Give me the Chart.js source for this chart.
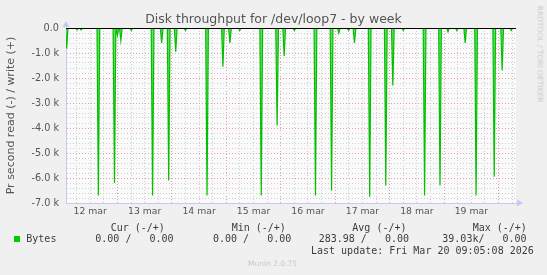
<!DOCTYPE html>
<html>
<head>
<meta charset="utf-8">
<script src="https://cdn.jsdelivr.net/npm/chart.js@4/dist/chart.umd.min.js"></script>
<style>
  body { margin: 0; background: #f0f0f0; }
  #wrap { position: relative; width: 547px; height: 275px; background: #f0f0f0; overflow: hidden; }
  #myChart { position: absolute; left: 0; top: 0; }
  .t { position: absolute; white-space: pre; color: #555; }
  .mono { font-family: "DejaVu Sans Mono", monospace; font-size: 10px; line-height: 12px; color: #3c3c3c; }
  #title { left: 0; width: 547px; top: 11px; text-align: center; font-family: "DejaVu Sans", sans-serif; font-size: 12.5px; line-height: 16px; }
  #credit { font-family: "DejaVu Sans", sans-serif; font-size: 7.5px; color: #c8c8c8; left: 540px; top: 54px; transform: translate(-50%, -50%) rotate(90deg); line-height: 9px; }
  #munin { font-family: "DejaVu Sans", sans-serif; font-size: 7.5px; color: #c8c8c8; left: 248px; top: 259px; line-height: 10px; }
  #swatch { position: absolute; left: 14px; top: 236px; width: 6px; height: 6px; background: #00cc00; }
</style>
</head>
<body>
<div id="wrap">
  <canvas id="myChart" width="547" height="275"></canvas>
  <div class="t" id="title">Disk throughput for /dev/loop7 - by week</div>
  <div class="t" id="credit">RRDTOOL / TOBI OETIKER</div>
  <div class="t" id="munin">Munin 2.0.75</div>
  <div id="swatch"></div>
</div>
<script>
// hours since 12 mar 00:00, read bytes per second (drawn negative)
const readHours = [1.6, 6.2, 8.0, 15.6, 22.7, 24.0, 25.5, 30.1, 39.5, 43.5,
                   46.6, 49.7, 54.0, 63.5, 70.5, 73.6, 77.9, 87.4, 94.4, 97.5,
                   102.0, 111.3, 118.4, 121.6, 125.9, 128.5, 135.2, 142.3, 145.4, 150.0,
                   159.4, 166.2, 169.7, 173.6, 177.3, 182.1, 190.1, 193.6, 197.6];
const readValues = [-820, -80, -80, -6700, -6200, -300, -500, -100, -6700, -600,
                    -6100, -950, -100, -6700, -1550, -600, -100, -6700, -3900, -1120,
                    -100, -6700, -6500, -200, -100, -600, -6750, -6300, -2300, -100,
                    -6700, -6300, -150, -100, -600, -6700, -5950, -1700, -100];
const dayLabels = ['12 mar', '13 mar', '14 mar', '15 mar', '16 mar', '17 mar', '18 mar', '19 mar'];
const startHour = 1.33;
const endHour = 199.7;

const legendHeads = ['Cur (-/+)', 'Min (-/+)', 'Avg (-/+)', 'Max (-/+)'];
const legendValues = ['0.00 /   0.00', '0.00 /   0.00', '283.98 /   0.00', '39.03k/   0.00'];
const lastUpdate = 'Last update: Fri Mar 20 09:05:08 2026';

const wrap = document.getElementById('wrap');
function addText(str, left, top) {
  const d = document.createElement('div');
  d.className = 't mono';
  d.style.left = left + 'px';
  d.style.top = top + 'px';
  d.textContent = str;
  wrap.appendChild(d);
}
const headX = [110.7, 231.7, 352.3, 472.7];
const valX = [95.3, 213, 318.7, 442.3];
legendHeads.forEach((h, i) => addText(h, headX[i], 221.5));
addText('Bytes', 26.3, 233.3);
legendValues.forEach((v, i) => addText(v, valX[i], 233.3));
addText(lastUpdate, 311, 245);

// build spike points (zero between samples)
let points = [{x: startHour, y: 0}];
readHours.forEach((h, i) => {
  points.push({x: h - 0.6, y: 0});
  points.push({x: h, y: readValues[i]});
  points.push({x: h + 0.6, y: 0});
});
points.push({x: endHour, y: 0});

const munin = {
  id: 'munin',
  beforeDraw(chart) {
    const a = chart.chartArea, c = chart.ctx;
    c.save();
    c.fillStyle = '#fafafa';
    c.fillRect(a.left, a.top, a.right - a.left, a.bottom - a.top);
    c.restore();
  },
  afterDatasetsDraw(chart) {
    const a = chart.chartArea, c = chart.ctx;
    const y0 = chart.scales.y.getPixelForValue(0);
    c.save();
    c.strokeStyle = '#000';
    c.lineWidth = 1;
    c.beginPath();
    c.moveTo(a.left, Math.round(y0) + 0.5);
    c.lineTo(a.right, Math.round(y0) + 0.5);
    c.stroke();
    // axis arrows
    c.fillStyle = '#c8c8f4';
    c.beginPath();
    c.moveTo(a.left - 3.5, a.top - 1);
    c.lineTo(a.left + 3.5, a.top - 1);
    c.lineTo(a.left, a.top - 7);
    c.fill();
    c.beginPath();
    c.moveTo(a.right + 1, a.bottom - 3.5);
    c.lineTo(a.right + 1, a.bottom + 3.5);
    c.lineTo(a.right + 7, a.bottom);
    c.fill();
    c.restore();
  }
};

let ctx = document.getElementById('myChart').getContext('2d');
let chart = new Chart(ctx, {
  type: 'line',
  data: {
    datasets: [{
      label: 'Bytes',
      data: points,
      borderColor: '#00c000',
      backgroundColor: 'rgba(0,204,0,0.6)',
      borderWidth: 1.2,
      fill: 'origin',
      pointRadius: 0,
      tension: 0
    }]
  },
  options: {
    responsive: false,
    animation: false,
    devicePixelRatio: 1,
    layout: { padding: { left: 0, right: 31, top: 28, bottom: 52 } },
    plugins: { legend: { display: false }, tooltip: { enabled: false } },
    scales: {
      x: {
        type: 'linear',
        min: startHour,
        max: endHour,
        afterFit(scale) { scale.height = 20; },
        border: { display: true, color: '#c8c8f4', width: 1, dash: [1, 2] },
        grid: {
          drawTicks: false,
          lineWidth: 1,
          color: c => (Math.round(c.tick.value) % 24 === 0 ? '#eaa0a0' : '#cfcfcf')
        },
        ticks: {
          stepSize: 6,
          includeBounds: false,
          autoSkip: false,
          maxRotation: 0,
          padding: 3,
          color: '#555',
          font: { family: 'DejaVu Sans', size: 9.3 },
          callback: v => {
            const h = Math.round(v);
            return h % 24 === 12 ? dayLabels[(h - 12) / 24] : '';
          }
        }
      },
      y: {
        min: -7000,
        max: 0,
        afterFit(scale) { scale.width = 66; },
        border: { display: true, color: '#c8c8f4', width: 1, dash: [1, 2] },
        grid: {
          drawTicks: false,
          lineWidth: 1,
          color: c => (Math.round(c.tick.value) % 1000 === 0 ? '#eaa0a0' : '#cfcfcf')
        },
        title: {
          display: true,
          text: 'Pr second read (-) / write (+)',
          color: '#555',
          font: { family: 'DejaVu Sans', size: 11 },
          padding: { top: 5, bottom: 0 }
        },
        ticks: {
          stepSize: 200,
          autoSkip: false,
          padding: 7,
          color: '#555',
          font: { family: 'DejaVu Sans', size: 9.7 },
          callback: v => {
            const n = Math.round(v);
            if (n % 1000 !== 0) return '';
            return n === 0 ? '0.0' : (n / 1000).toFixed(1) + ' k';
          }
        }
      }
    }
  },
  plugins: [munin]
});
</script>
</body>
</html>
